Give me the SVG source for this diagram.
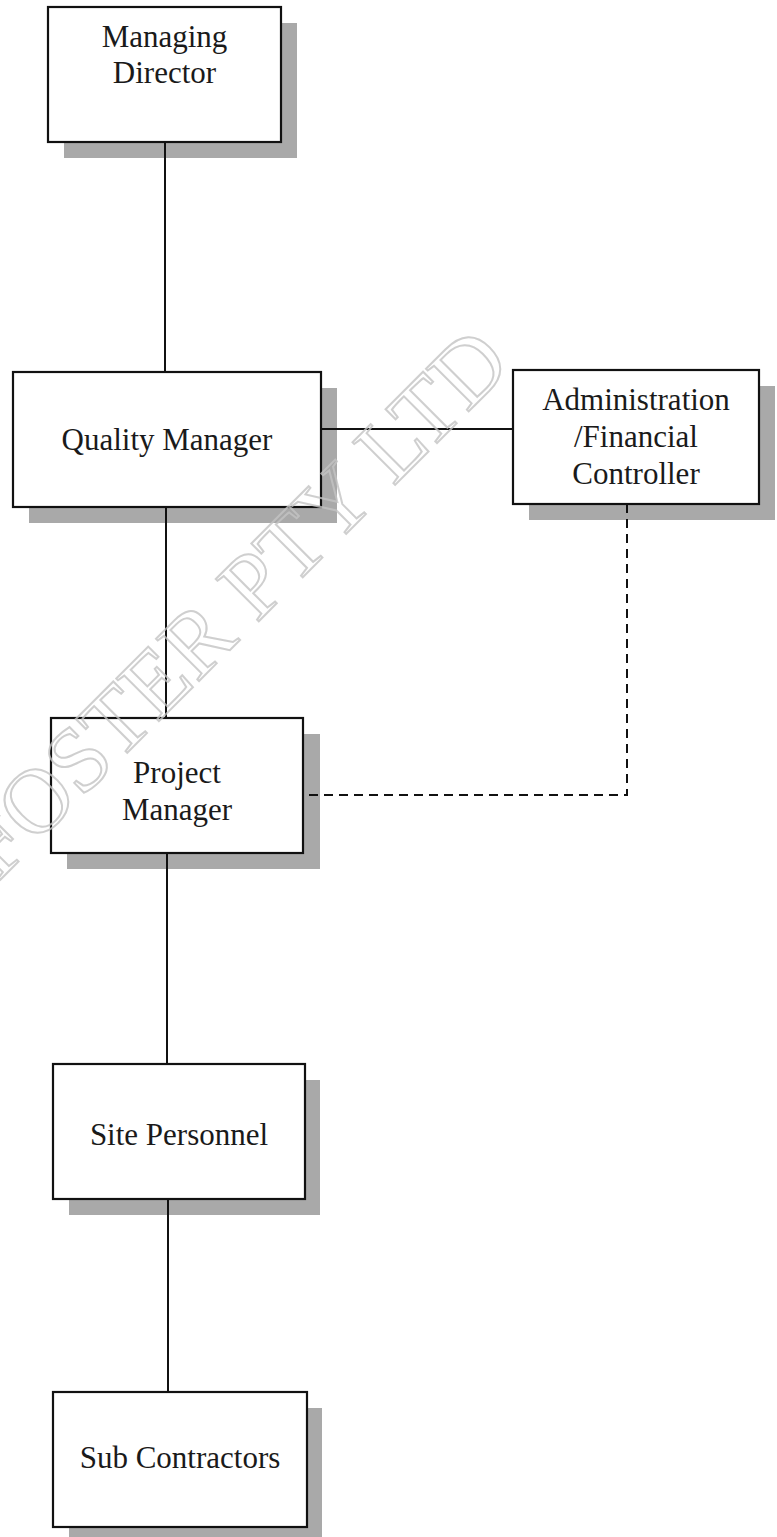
<svg xmlns="http://www.w3.org/2000/svg" width="777" height="1537" viewBox="0 0 777 1537">
<style>
.box{fill:#fff;stroke:#111;stroke-width:2.2}
.shadow{fill:#a9a9a9}
.lbl{font-family:"Liberation Serif","Times New Roman",serif;font-size:31px;fill:#1a1a1a;text-anchor:middle}
.ln{stroke:#111;stroke-width:2;fill:none}
.dash{stroke:#111;stroke-width:2;fill:none;stroke-dasharray:9 6}
.wm{font-family:"Liberation Serif","Times New Roman",serif;font-size:92px;fill:none;stroke:#c4c4c4;stroke-width:2}
</style>
<rect width="777" height="1537" fill="#fff"/>
<g id="shadows">
<rect class="shadow" x="64" y="23" width="233" height="135"/>
<rect class="shadow" x="29" y="388" width="308" height="135"/>
<rect class="shadow" x="529" y="386" width="246" height="134"/>
<rect class="shadow" x="67" y="734" width="253" height="135"/>
<rect class="shadow" x="69" y="1080" width="251" height="135"/>
<rect class="shadow" x="69" y="1408" width="253" height="135"/>
</g>
<g id="connectors">
<line class="ln" x1="165" y1="142" x2="165" y2="372"/>
<line class="ln" x1="166" y1="507" x2="166" y2="718"/>
<line class="ln" x1="321" y1="429" x2="513" y2="429"/>
<line class="ln" x1="167" y1="853" x2="167" y2="1064"/>
<line class="ln" x1="168" y1="1199" x2="168" y2="1392"/>
<polyline class="dash" points="627,504 627,795 303,795"/>
</g>
<g id="managing-director">
<rect class="box" x="48" y="7" width="233" height="135"/>
<text class="lbl" x="164.5" y="47">Managing</text>
<text class="lbl" x="164.5" y="83">Director</text>
</g>
<g id="quality-manager">
<rect class="box" x="13" y="372" width="308" height="135"/>
<text class="lbl" x="167" y="450">Quality Manager</text>
</g>
<g id="admin-financial-controller">
<rect class="box" x="513" y="370" width="246" height="134"/>
<text class="lbl" x="636" y="410">Administration</text>
<text class="lbl" x="636" y="447">/Financial</text>
<text class="lbl" x="636" y="484">Controller</text>
</g>
<g id="project-manager">
<rect class="box" x="51" y="718" width="252" height="135"/>
<text class="lbl" x="177" y="783">Project</text>
<text class="lbl" x="177" y="820">Manager</text>
</g>
<g id="site-personnel">
<rect class="box" x="53" y="1064" width="252" height="135"/>
<text class="lbl" x="179" y="1145">Site Personnel</text>
</g>
<g id="sub-contractors">
<rect class="box" x="53" y="1392" width="254" height="135"/>
<text class="lbl" x="180" y="1468">Sub Contractors</text>
</g>
<g id="watermark" opacity="0.8">
<text class="wm" transform="translate(-2,882) rotate(-45)">FOSTER PTY LTD</text>
</g>
</svg>
